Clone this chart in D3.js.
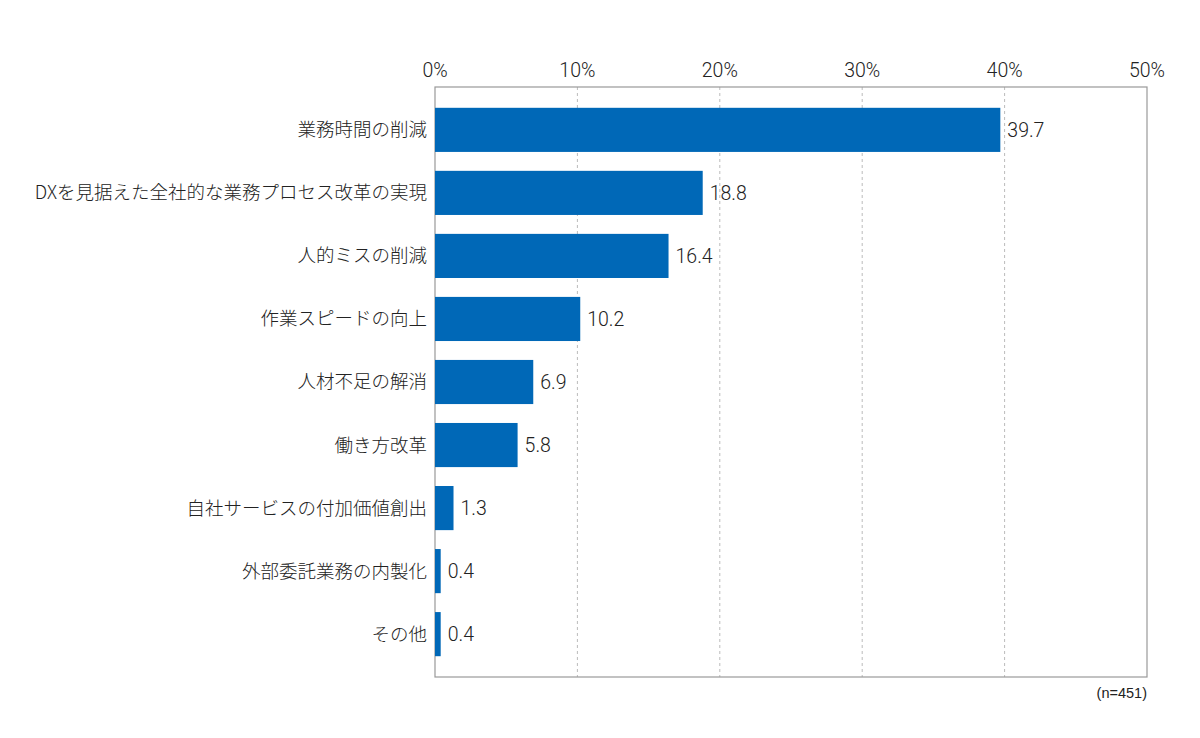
<!DOCTYPE html>
<html>
<head>
<meta charset="utf-8">
<script src="https://cdn.jsdelivr.net/npm/d3@7"></script>
<style>
  body { margin: 0; background: #fff; }
  text { font-family: "Noto Sans CJK JP", "Noto Sans", sans-serif; fill: #222; font-weight: 300; }
  .catLabel { font-size: 18.5px; }
  .valLabel, .tickLabel { font-family: Roboto, "Noto Sans CJK JP", sans-serif; font-size: 19.5px; }
  .note { font-family: "Liberation Sans", Arial, sans-serif; font-weight: 400; font-size: 14.5px; }
</style>
</head>
<body>
<div id="chart"></div>
<script>
// categories and values (%)
var categories = [
  "業務時間の削減",
  "DXを見据えた全社的な業務プロセス改革の実現",
  "人的ミスの削減",
  "作業スピードの向上",
  "人材不足の解消",
  "働き方改革",
  "自社サービスの付加価値創出",
  "外部委託業務の内製化",
  "その他"
];
var values = [39.7, 18.8, 16.4, 10.2, 6.9, 5.8, 1.3, 0.4, 0.4];
var ticks = [0, 10, 20, 30, 40, 50];
var note = "(n=451)";

var W = 1200, H = 738;
var margin = {top: 87, right: 53, bottom: 61, left: 435};
var width = W - margin.left - margin.right;
var height = H - margin.top - margin.bottom;

var svg = d3.select("#chart").append("svg")
  .attr("width", W)
  .attr("height", H);

var g = svg.append("g")
  .attr("transform", "translate(" + margin.left + "," + margin.top + ")");

var x = d3.scaleLinear().domain([0, 50]).range([0, width]);
var y = d3.scaleBand().domain(categories).range([0, height])
  .paddingInner(0.3).paddingOuter(0.33);

//gridlines
g.selectAll(".grid")
  .data(ticks.filter(function(d) { return d > 0 && d < 50; }))
  .enter().append("line")
  .attr("x1", function(d) { return x(d); })
  .attr("x2", function(d) { return x(d); })
  .attr("y1", 0)
  .attr("y2", height)
  .attr("stroke", "#bbb")
  .attr("stroke-width", 1)
  .attr("stroke-dasharray", "3,3");

//frame
g.append("rect")
  .attr("x", 0).attr("y", 0)
  .attr("width", width).attr("height", height)
  .attr("fill", "none")
  .attr("stroke", "#999")
  .attr("stroke-width", 1.2);

//top tick labels
g.selectAll(".tickLabel")
  .data(ticks)
  .enter().append("text")
  .attr("class", "tickLabel")
  .attr("x", function(d) { return x(d); })
  .attr("y", -10)
  .attr("text-anchor", "middle")
  .text(function(d) { return d + "%"; });

//bars
g.selectAll(".bar")
  .data(values)
  .enter().append("rect")
  .attr("class", "bar")
  .attr("x", 0)
  .attr("y", function(d, i) { return y(categories[i]); })
  .attr("width", function(d) { return x(d); })
  .attr("height", y.bandwidth())
  .attr("fill", "#0068b7");

//value labels
g.selectAll(".valLabel")
  .data(values)
  .enter().append("text")
  .attr("class", "valLabel")
  .attr("x", function(d) { return x(d) + 7; })
  .attr("y", function(d, i) { return y(categories[i]) + y.bandwidth() / 2; })
  .attr("dy", "0.35em")
  .text(function(d) { return d.toFixed(1); });

//category labels
g.selectAll(".catLabel")
  .data(categories)
  .enter().append("text")
  .attr("class", "catLabel")
  .attr("x", -8)
  .attr("y", function(d) { return y(d) + y.bandwidth() / 2; })
  .attr("dy", "0.35em")
  .attr("text-anchor", "end")
  .text(function(d) { return d; });

//sample size
g.append("text")
  .attr("class", "note")
  .attr("x", width)
  .attr("y", height + 21)
  .attr("text-anchor", "end")
  .text(note);
</script>
</body>
</html>
